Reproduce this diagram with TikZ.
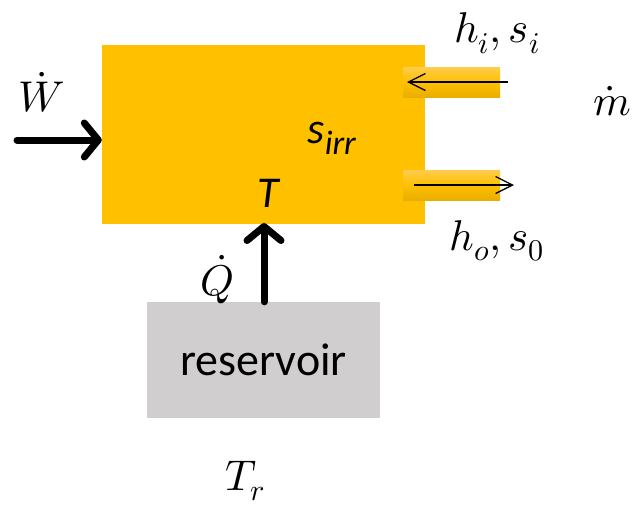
\documentclass[tikz,border=0pt]{standalone}
\usepackage{unicode-math}
\setmathfont{Latin Modern Math}
\newfontfamily\calibri{Carlito}
\usetikzlibrary{arrows.meta}
\definecolor{boxorange}{HTML}{FFC000}
\definecolor{pipetop}{HTML}{FFCC4D}
\definecolor{pipebot}{HTML}{E8AE00}
\definecolor{resgray}{HTML}{D0CECE}
\tikzset{
  x=1pt,y=-1pt,
  mathlbl/.style={inner sep=0pt,font=\fontsize{43}{46}\selectfont},
  pipe/.style={draw=none,top color=pipetop,bottom color=pipebot,middle color=boxorange},
  thinarrow/.style={line width=1.3pt,-{Straight Barb[length=17pt,width=17pt,line width=1.3pt]}},
  thickarrow/.style={line width=7pt,line cap=round,-{Straight Barb[length=14pt,width=34pt,line width=7pt,round]}},
}
\begin{document}
\begin{tikzpicture}
\useasboundingbox (0,0) rectangle (639,507);
% main box
\fill[boxorange] (102,45) rectangle (425,224);
\node[inner sep=0pt,minimum width=323pt,minimum height=179pt] (sys) at (263.5,134.5) {};
% pipes
\shade[pipe] (403,67) rectangle (500,97);
\shade[pipe] (403,170) rectangle (500,200);
\coordinate (inS) at (508,82);
\coordinate (inE) at (407,82);
\coordinate (outS) at (414,185);
\coordinate (outE) at (514,185);
\draw[thinarrow] (inS) -- (inE);
\draw[thinarrow] (outS) -- (outE);
% reservoir
\node[fill=resgray,minimum width=233pt,minimum height=116pt,inner sep=0pt,
      font=\calibri\fontsize{46}{50}\selectfont] (res) at (263.5,360) {reservoir};
% arrows
\coordinate (wS) at (17,140);
\coordinate (qT) at (264,224);
\draw[thickarrow] (wS) -- (wS -| sys.west);
\draw[thickarrow] (res.north -| qT) -- ([yshift=1pt]qT);
% labels
\node[mathlbl] (hi) at (497,33) {$h_i,s_i$};
\node[mathlbl] (ho) at (497,241) {$h_o,s_0$};
\node[mathlbl] (mdot) at (612,101) {$\dot m$};
\node[mathlbl] (wdot) at (42,92) {$\dot W$};
\node[mathlbl] (qdot) at (218,280) {$\dot Q$};
\node[mathlbl] (tr) at (245,481) {$T_r$};
\node[inner sep=0pt,font=\calibri\itshape\fontsize{44}{50}\selectfont] (sirr) at (332,138) {s\textsubscript{\fontsize{34}{40}\selectfont irr}};
\node[inner sep=0pt,font=\calibri\itshape\fontsize{44}{50}\selectfont] (tT) at (268,193) {T};
\end{tikzpicture}
\end{document}
